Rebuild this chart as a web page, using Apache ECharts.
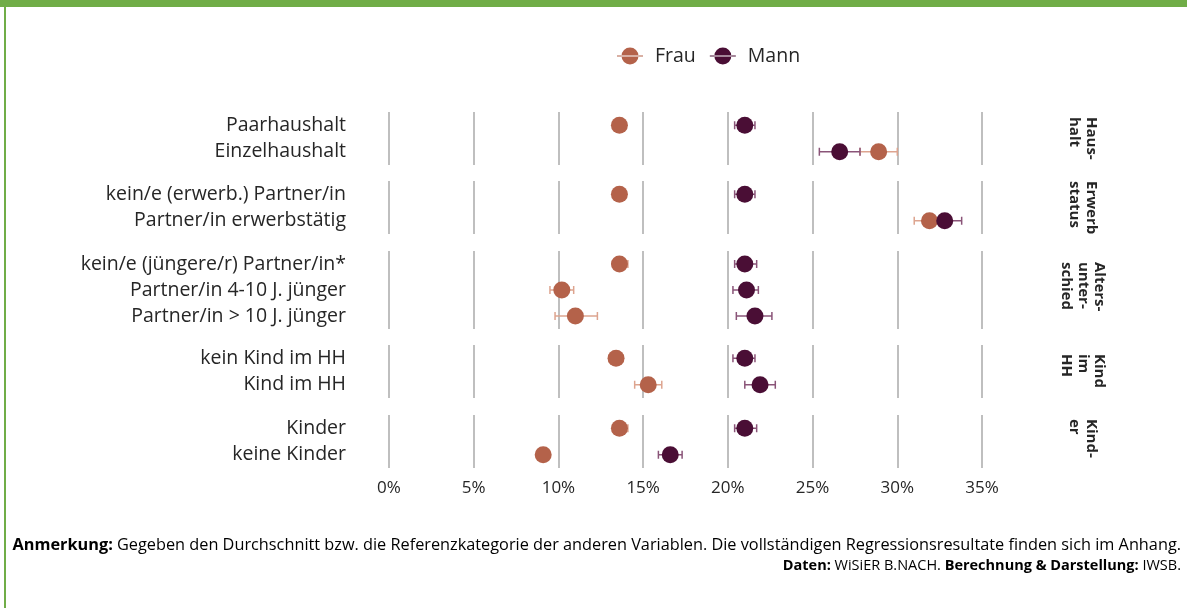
<!DOCTYPE html>
<html>
<head>
<meta charset="utf-8">
<script src="https://cdn.jsdelivr.net/npm/echarts@6.0.0/dist/echarts.min.js"></script>
<style>
  html, body { margin: 0; padding: 0; background: #fff; }
  #wrap { position: relative; width: 1187px; height: 608px; overflow: hidden; }
  #chart { width: 1187px; height: 608px; }
  .bar-top { position: absolute; left: 0; top: 0; width: 1187px; height: 7px; background: #70AD47; }
  .bar-left { position: absolute; left: 4px; top: 0; width: 2px; height: 608px; background: #70AD47; }
</style>
</head>
<body>
<div id="wrap">
  <div id="chart"></div>
  <div class="bar-top"></div>
  <div class="bar-left"></div>
</div>
<script>
// rows of the chart, group = panel index
const categories = [
  'Paarhaushalt', 'Einzelhaushalt',
  'kein/e (erwerb.) Partner/in', 'Partner/in erwerbstätig',
  'kein/e (jüngere/r) Partner/in*', 'Partner/in 4-10 J. jünger', 'Partner/in > 10 J. jünger',
  'kein Kind im HH', 'Kind im HH',
  'Kinder', 'keine Kinder'
]
const groupOf = [0, 0, 1, 1, 2, 2, 2, 3, 3, 4, 4]
const groupLabels = ['Haus-\nhalt', 'Erwerb\nstatus', 'Alters-\nunter-\nschied', 'Kind\nim\nHH', 'Kind-\ner']

// Frau
const frau = [13.6, 28.9, 13.6, 31.9, 13.6, 10.2, 11.0, 13.4, 15.3, 13.6, 9.1]
const frauLow = [13.3, 27.8, 13.3, 31.0, 13.2, 9.5, 9.8, 13.0, 14.5, 13.2, 8.8]
const frauHigh = [13.9, 30.0, 13.9, 32.8, 14.1, 10.9, 12.3, 13.8, 16.1, 14.1, 9.4]
// Mann
const mann = [21.0, 26.6, 21.0, 32.8, 21.0, 21.1, 21.6, 21.0, 21.9, 21.0, 16.6]
const mannLow = [20.4, 25.4, 20.4, 32.0, 20.4, 20.3, 20.5, 20.3, 21.0, 20.4, 15.9]
const mannHigh = [21.6, 27.8, 21.6, 33.8, 21.7, 21.8, 22.6, 21.6, 22.8, 21.7, 17.3]

const xTicks = { min: 0, max: 35, interval: 5 }

const colorFrau = '#B4624A'
const colorMann = '#4A0E35'
const errFrau = '#DDA48F'
const errMann = '#8A5478'
const textColor = '#262626'
const font = '"Open Sans", "Noto Sans", sans-serif'

// panel placement (top, height) in px
const panels = [[112, 53], [181, 53], [251, 78], [345, 53], [415, 53]]
const labelTops = [117, 181, 262, 354, 419]

let chart = echarts.init(document.getElementById('chart'))

let grids = [], xAxes = [], yAxes = [], series = []

panels.forEach(([top, height], g) => {
  const idx = categories.map((c, i) => i).filter(i => groupOf[i] === g)
  const isLast = g === panels.length - 1
  grids.push({ left: 389, right: 205, top: top, height: height })
  xAxes.push({
    gridIndex: g,
    type: 'value',
    min: xTicks.min,
    max: xTicks.max,
    interval: xTicks.interval,
    axisLine: { show: false },
    axisTick: { show: false },
    axisLabel: {
      show: isLast,
      formatter: '{value}%',
      color: textColor,
      fontSize: 17,
      fontFamily: font,
      margin: 12,
    },
    splitLine: { show: true, lineStyle: { color: '#BFBFBF', width: 2 } },
  })
  yAxes.push({
    gridIndex: g,
    type: 'category',
    inverse: true,
    data: idx.map(i => categories[i]),
    axisLine: { show: false },
    axisTick: { show: false },
    axisLabel: { interval: 0, color: textColor, fontSize: 19.5, fontFamily: font, margin: 43 },
  })

  const errSeries = (name, lo, hi, color) => ({
    type: 'custom',
    name: name,
    xAxisIndex: g,
    yAxisIndex: g,
    z: 2,
    silent: true,
    data: idx.map((i, k) => [lo[i], hi[i], k]),
    encode: { x: [0, 1], y: 2 },
    renderItem: function (params, api) {
      const a = api.coord([api.value(0), api.value(2)])
      const b = api.coord([api.value(1), api.value(2)])
      const cap = 4
      const st = { stroke: color, lineWidth: 1.5 }
      return {
        type: 'group',
        children: [
          { type: 'line', shape: { x1: a[0], y1: a[1], x2: b[0], y2: b[1] }, style: st },
          { type: 'line', shape: { x1: a[0], y1: a[1] - cap, x2: a[0], y2: a[1] + cap }, style: st },
          { type: 'line', shape: { x1: b[0], y1: b[1] - cap, x2: b[0], y2: b[1] + cap }, style: st },
        ],
      }
    },
  })

  series.push(errSeries('errF' + g, frauLow, frauHigh, errFrau))
  series.push(errSeries('errM' + g, mannLow, mannHigh, errMann))
  series.push({
    type: 'scatter',
    name: 'Frau',
    xAxisIndex: g,
    yAxisIndex: g,
    z: 3,
    symbolSize: 17,
    itemStyle: { color: colorFrau, opacity: 1 },
    data: idx.map((i, k) => [frau[i], k]),
  })
  series.push({
    type: 'scatter',
    name: 'Mann',
    xAxisIndex: g,
    yAxisIndex: g,
    z: 4,
    symbolSize: 17,
    itemStyle: { color: colorMann, opacity: 1 },
    data: idx.map((i, k) => [mann[i], k]),
  })
})

const legendIcon = 'path://M0,8h26v1h-26z M13,0a8.5,8.5 0 1,0 0.01,0z'

let graphics = groupLabels.map((t, g) => ({
  type: 'text',
  x: 1083,
  y: labelTops[g],
  rotation: -Math.PI / 2,
  style: {
    text: t,
    fill: textColor,
    font: 'bold 15px ' + font,
    lineHeight: 16.5,
    align: 'left',
    verticalAlign: 'middle',
  },
}))

graphics.push({
  type: 'text',
  right: 6,
  top: 537,
  style: {
    text: '{b|Anmerkung:} Gegeben den Durchschnitt bzw. die Referenzkategorie der anderen Variablen. Die vollständigen Regressionsresultate finden sich im Anhang.',
    rich: {
      b: { fontWeight: 'bold', fontSize: 16.3, fontFamily: font, fill: '#000' },
    },
    font: '16.3px ' + font,
    fill: '#000',
  },
})
graphics.push({
  type: 'text',
  right: 6,
  top: 558,
  style: {
    text: '{b|Daten:} WiSiER B.NACH. {b|Berechnung & Darstellung:} IWSB.',
    rich: {
      b: { fontWeight: 'bold', fontSize: 14.5, fontFamily: font, fill: '#000' },
    },
    font: '14.5px ' + font,
    fill: '#000',
  },
})

chart.setOption({
  animation: false,
  backgroundColor: '#fff',
  legend: {
    data: ['Frau', 'Mann'],
    left: 612,
    top: 41,
    icon: legendIcon,
    itemWidth: 26,
    itemHeight: 17,
    itemGap: 14,
    textStyle: { color: textColor, fontSize: 19.5, fontFamily: font, padding: [0, 0, 0, 7] },
  },
  grid: grids,
  xAxis: xAxes,
  yAxis: yAxes,
  series: series,
  graphic: graphics,
})
</script>
</body>
</html>
